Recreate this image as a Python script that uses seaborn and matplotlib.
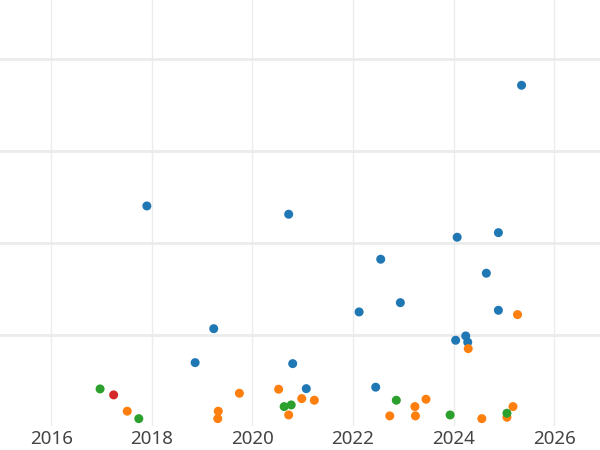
import matplotlib
matplotlib.use('Agg')
import matplotlib.pyplot as plt
import seaborn as sns
import pandas as pd

# decimal years and values per group
blue_x = [2025.35, 2017.90, 2020.72, 2024.07, 2024.89, 2022.55, 2024.65, 2022.94, 2022.12,
          2024.89, 2019.23, 2024.24, 2024.04, 2024.28, 2018.86, 2020.80, 2021.07, 2022.45]
blue_y = [371.4, 240.2, 231.2, 206.2, 211.2, 182.3, 167.1, 135.1, 125.0,
          126.8, 106.8, 98.9, 94.2, 92.1, 69.9, 68.8, 41.6, 43.2]

orange_x = [2025.27, 2024.29, 2019.74, 2020.52, 2020.98, 2021.23, 2017.51, 2019.32, 2019.31,
            2020.72, 2022.73, 2023.23, 2023.24, 2023.45, 2024.56, 2025.18, 2025.06]
orange_y = [122.1, 85.1, 36.6, 41.0, 30.8, 29.0, 17.1, 17.1, 9.0,
            13.0, 12.0, 22.1, 12.0, 30.1, 9.0, 22.1, 10.5]

green_x = [2016.97, 2017.74, 2020.63, 2020.77, 2022.86, 2023.93, 2025.06]
green_y = [41.3, 9.0, 22.1, 23.9, 29.0, 13.0, 14.9]

red_x = [2017.24]
red_y = [34.8]

groups = ['A', 'B', 'C', 'D']
year_ticks = [2016, 2018, 2020, 2022, 2024, 2026]

df = pd.concat([
    pd.DataFrame({'x': blue_x, 'y': blue_y, 'g': 'A'}),
    pd.DataFrame({'x': orange_x, 'y': orange_y, 'g': 'B'}),
    pd.DataFrame({'x': green_x, 'y': green_y, 'g': 'C'}),
    pd.DataFrame({'x': red_x, 'y': red_y, 'g': 'D'}),
], ignore_index=True)

sns.set_style('white')
plt.rcParams['font.family'] = ['Noto Sans', 'DejaVu Sans']

fig = plt.figure(figsize=(6, 4.5), dpi=100)
ax = fig.add_axes([0, 24 / 450, 1, 426 / 450])

sns.scatterplot(data=df, x='x', y='y', hue='g', hue_order=groups,
                palette=['#1f77b4', '#ff7f0e', '#2ca02c', '#d62728'],
                s=42, linewidth=0, legend=False, ax=ax, zorder=3)

ax.set_xlim(2014.98, 2026.91)
ax.set_ylim(1, 464.1)
ax.set_xticks(year_ticks)
ax.set_xticklabels([str(t) for t in year_ticks])
ax.set_yticks([100, 200, 300, 400])
ax.set_yticklabels([])

for t in year_ticks:
    ax.axvline(t, color='#ececec', linewidth=1, zorder=1)
for v in [100, 200, 300, 400]:
    ax.axhline(v, color='#ebebeb', linewidth=2, zorder=1)

ax.tick_params(axis='x', length=0, pad=3, labelsize=13.5, labelcolor='#444444')
ax.tick_params(axis='y', length=0)
ax.set_xlabel('')
ax.set_ylabel('')
for sp in ax.spines.values():
    sp.set_visible(False)

fig.savefig('out.png', dpi=100)
